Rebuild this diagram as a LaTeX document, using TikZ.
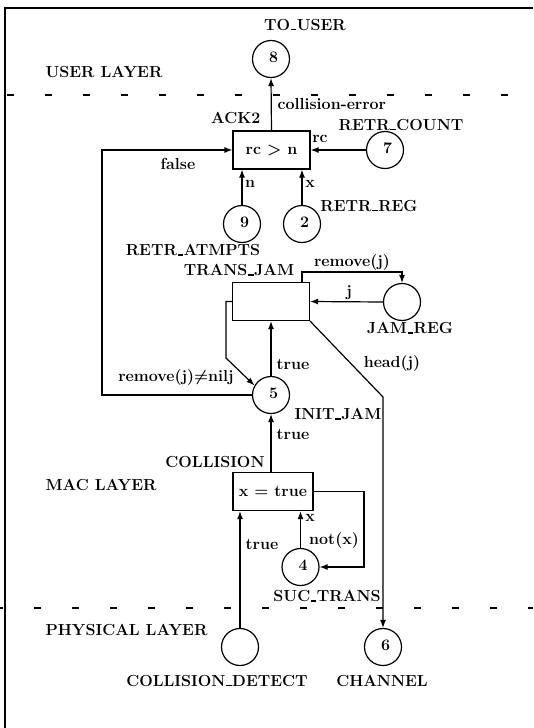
\documentclass[tikz,border=0pt]{standalone}
\usetikzlibrary{arrows.meta,calc}
\newcommand\usc{\kern0.04em\rule{0.34em}{0.07em}\kern0.04em}
\begin{document}
\begin{tikzpicture}[x=0.75pt,y=-0.75pt,
  every node/.style={font=\fontsize{12}{14}\selectfont\bfseries\boldmath, inner sep=1pt},
  place/.style={draw, circle, line width=0.9pt, minimum size=27.75pt, inner sep=0pt},
  trans/.style={draw, rectangle, line width=0.9pt, minimum width=57.75pt, minimum height=28.5pt, inner sep=0pt},
  arc/.style={line width=0.9pt, -{Latex[length=6pt,width=4.5pt]}},
  layer/.style={line width=1pt, dash pattern=on 5.25pt off 23.25pt},
  tok/.style={xshift=2pt, yshift=1.5pt}
]
\useasboundingbox (0,0) rectangle (533,728);
% frame
\draw[line width=1.5pt] (5,735) -- (5,8) -- (533,8);
% layer separators
\draw[layer] (7,95) -- (533,95);
\draw[layer] (-4,608) -- (533,608);
\node[anchor=west] (lu) at (44,72) {USER LAYER};
\node[anchor=west] (lm) at (44,485) {MAC LAYER};
\node[anchor=west] (lp) at (44,630) {PHYSICAL LAYER};

% places
\node[place] (p8) at (271,59) {};
\node[tok] (n8) at (p8) {8};
\node (l8) at (305,25) {TO\usc USER};
\node[place] (p7) at (385,150) {};
\node[tok] (n7) at (p7) {7};
\node (l7) at (401,125) {RETR\usc COUNT};
\node[place] (p9) at (242,224) {};
\node[tok] (n9) at (p9) {9};
\node (l9) at (193,250) {RETR\usc ATMPTS};
\node[place] (p2) at (302,224) {};
\node[tok] (n2) at (p2) {2};
\node (l2) at (369,206) {RETR\usc REG};
\node[place] (pjr) at (402,302) {};
\node (ljr) at (410,328) {JAM\usc REG};
\node[place] (p5) at (271,395) {};
\node[tok] (n5) at (p5) {5};
\node (l5) at (338,414) {INIT\usc JAM};
\node[place] (p4) at (300.5,567) {};
\node[tok] (n4) at (p4) {4};
\node (l4) at (327,596) {SUC\usc TRANS};
\node[place] (pcd) at (240,647) {};
\node (lcd) at (217,681) {COLLISION\usc DETECT};
\node[place] (p6) at (383,647) {};
\node[tok] (n6) at (p6) {6};
\node (l6) at (382,681) {CHANNEL};

% transitions
\node[trans] (t1) at (271.5,150) {rc $>$ n};
\node[anchor=east] (lt1) at (262,118) {ACK2};
\node[trans] (t2) at (271,301.5) {};
\node (lt2) at (239,270) {TRANS\usc JAM};
\node[trans, minimum width=60pt] (t3) at (273,491.5) {x $=$ true};
\node (lt3) at (215,462) {COLLISION};

% arcs
\draw[arc] (t1.north) -- (p8.south);
\node[anchor=west] (a1) at (276,104) {collision-error};
\draw[arc] (p7.west) -- (t1.east);
\node (a2) at (320,139) {rc};
\draw[arc] (p9.north) -- (p9.north |- t1.south);
\node (a3) at (250,184) {n};
\draw[arc] (p2.north) -- (p2.north |- t1.south);
\node (a4) at (310,184) {x};
\coordinate (fl) at (102,150);
\draw[arc] (p5.west) -| (fl) -- (t1.west);
\node (a5) at (178,164) {false};
\coordinate (rj) at (302,272);
\draw[arc] (rj |- t2.north) -- (rj) -| (pjr.north);
\node (a6) at (352,263) {remove(j)};
\draw[arc] (pjr.west) -- (t2.east);
\node (a7) at (349,293) {j};
\coordinate (c1) at (226,358);
\draw[arc] (t2.west) -| (c1) -- (p5.150);
\node (a8) at (176,378) {remove(j)$\neq$nilj};
\draw[arc] (p5.north) -- (t2.south);
\node (a9) at (293,364) {true};
\coordinate (c2) at (383,397);
\draw[arc] (t2.south east) -- (c2) -- (p6.north);
\node (a10) at (392,364) {head(j)};
\draw[arc] (t3.north -| p5) -- (p5.south);
\node (a11) at (293,434) {true};
\coordinate (c3) at (364,530);
\draw[arc] (t3.east) -| (c3) |- (p4.east);
\node (a12) at (334,541) {not(x)};
\draw[arc] (p4.north) -- (p4.north |- t3.south);
\node (a13) at (310,518) {x};
\draw[arc] (pcd.north) -- (pcd.north |- t3.south);
\node (a14) at (262,544) {true};
\end{tikzpicture}
\end{document}
